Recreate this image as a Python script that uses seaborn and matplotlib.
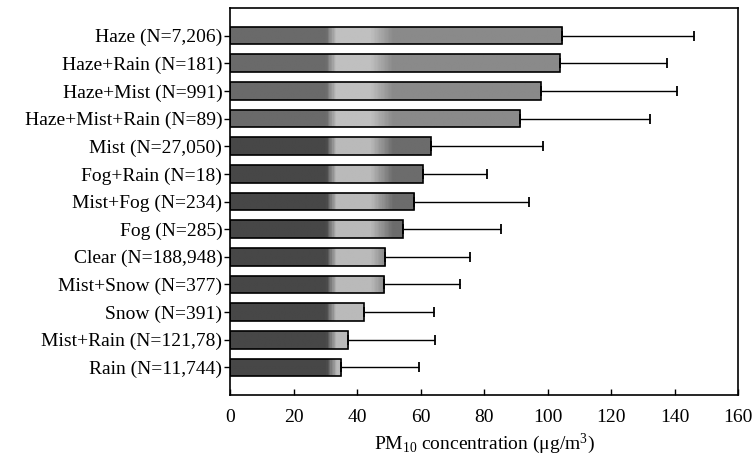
import numpy as np
import pandas as pd
import matplotlib
matplotlib.use("Agg")
import matplotlib.pyplot as plt
import seaborn as sns
from matplotlib.colors import LinearSegmentedColormap

categories = ["Haze (N=7,206)", "Haze+Rain (N=181)", "Haze+Mist (N=991)",
              "Haze+Mist+Rain (N=89)", "Mist (N=27,050)", "Fog+Rain (N=18)",
              "Mist+Fog (N=234)", "Fog (N=285)", "Clear (N=188,948)",
              "Mist+Snow (N=377)", "Snow (N=391)", "Mist+Rain (N=121,78)",
              "Rain (N=11,744)"]
means = [104.7, 103.9, 97.9, 91.4, 63.2, 60.7, 58.0, 54.4, 48.9, 48.6, 42.2, 37.3, 35.0]
upper = [146.1, 137.5, 140.7, 132.4, 98.7, 80.9, 94.1, 85.5, 75.7, 72.5, 64.1, 64.7, 59.4]
xticks = [0, 20, 40, 60, 80, 100, 120, 140, 160]

df = pd.DataFrame({"cat": categories, "mean": means, "upper": upper})
df["sd"] = df["upper"] - df["mean"]

sns.set_theme(style="white")
plt.rcParams["font.family"] = ["Liberation Serif", "DejaVu Serif"]
plt.rcParams["mathtext.fontset"] = "custom"
plt.rcParams["mathtext.rm"] = "Liberation Serif"
plt.rcParams["mathtext.it"] = "Liberation Serif:italic"

fig = plt.figure(figsize=(7.55, 4.65), dpi=100)
ax = fig.add_axes([230/755, 1-395/465, (738-230)/755, (395-8)/465])

sns.barplot(data=df, x="mean", y="cat", orient="h", ax=ax, color="gray",
            width=0.64, edgecolor="black", linewidth=1.2, saturation=1, zorder=2)

XMAX = 160.0
def make_cmap(dark, light, mid):
    stops = [(0.0, dark), (30/XMAX, dark), (33/XMAX, light), (44/XMAX, light),
             (51/XMAX, mid), (1.0, mid)]
    return LinearSegmentedColormap.from_list("g", stops)

cm_haze = make_cmap("#6a6a6a", "#c0c0c0", "#8a8a8a")
cm_other = make_cmap("#474747", "#bababa", "#6c6c6c")
grad = np.linspace(0, 1, 400).reshape(1, -1)

for i, p in enumerate(ax.patches[:len(categories)]):
    y0, h = p.get_y(), p.get_height()
    cm = cm_haze if i < 4 else cm_other
    im = ax.imshow(grad, cmap=cm, aspect="auto", extent=[0, XMAX, y0 + h, y0],
                   zorder=1.5, interpolation="bilinear")
    im.set_clip_path(p)
    p.set_facecolor("none")
    p.set_zorder(3)

ycent = [p.get_y() + p.get_height()/2 for p in ax.patches[:len(categories)]]
ax.errorbar(df["mean"], ycent, xerr=[np.zeros(len(df)), df["sd"]], fmt="none",
            ecolor="black", elinewidth=1.0, capsize=3.6, capthick=1.3, zorder=2.5)

ax.set_xlim(0, 160)
ax.set_ylim(len(categories), -1)
ax.set_xticks(xticks)
ax.set_xticklabels([str(t) for t in xticks])
ax.tick_params(axis="x", direction="in", length=4, width=1, labelsize=14, pad=10,
               bottom=True, top=False, colors="black")
ax.tick_params(axis="y", direction="out", length=4, width=1, labelsize=14, pad=1.5,
               left=True, right=False, colors="black")
for s in ax.spines.values():
    s.set_visible(True)
    s.set_color("black")
    s.set_linewidth(1.2)
ax.set_ylabel("")
ax.set_xlabel("PM$_{10}$ concentration (μg/m$^{3}$)", fontsize=14, labelpad=4,
              color="black")

fig.savefig("out.png", dpi=100, facecolor="white")
